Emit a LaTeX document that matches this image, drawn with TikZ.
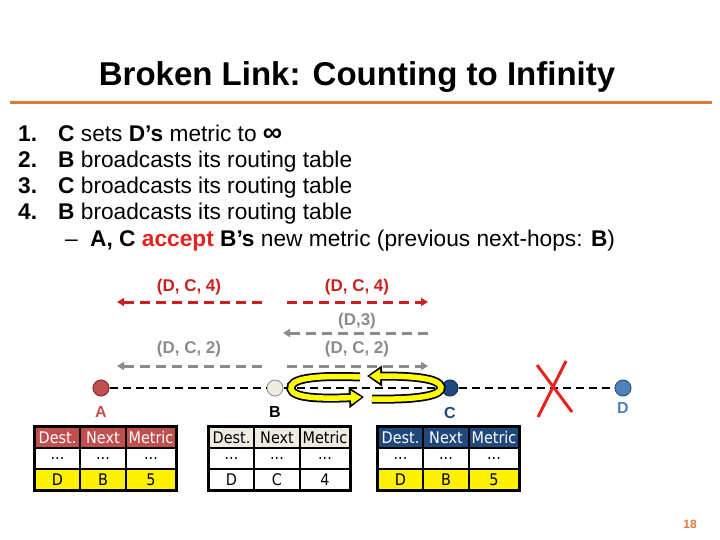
\documentclass[tikz,border=0pt]{standalone}
\usepackage{fontspec}
\setmainfont{Liberation Sans}
\newfontfamily\tabfont[FakeStretch=0.9]{DejaVu Sans}
\usepackage{xcolor}
\definecolor{ruleOrange}{HTML}{E07A3A}
\definecolor{nodeA}{HTML}{C0504D}
\definecolor{nodeB}{HTML}{EEECE1}
\definecolor{nodeC}{HTML}{1F497D}
\definecolor{nodeD}{HTML}{4F81BD}
\definecolor{msgRed}{HTML}{CC2020}
\definecolor{msgGray}{HTML}{8C8C8C}
\definecolor{acceptRed}{HTML}{E8231F}
\definecolor{loopYellow}{HTML}{FFFF00}
\usetikzlibrary{positioning,arrows.meta,calc}

\begin{document}
\begin{tikzpicture}[x=1pt, y=-1pt,
    every node/.style={font=\fontsize{22.7}{26}\selectfont, inner sep=0pt},
    router/.style={circle, draw=#1!65!black, line width=1pt, fill=#1, minimum size=16pt},
    rlabel/.style={font=\fontsize{16}{18}\selectfont\bfseries, text=#1},
    msglab/.style={font=\fontsize{17}{19}\selectfont\bfseries, text=#1},
    msg/.style={draw=#1, line width=3pt, dash pattern=on 10pt off 6pt,
      -{Triangle[length=7pt,width=8pt]}},
    link/.style={draw=black, line width=2.4pt, dash pattern=on 8pt off 5pt},
    cell/.style={draw=black, line width=1.5pt, minimum height=21pt,
      font=\fontsize{16}{17}\selectfont\tabfont},
    tabframe/.style={draw=black, line width=2.5pt},
    loopout/.style={draw=black, line width=9pt, -{Triangle[length=15pt,width=20pt]}},
    loopin/.style={draw=loopYellow, line width=5.5pt, shorten >=2.5pt,
      -{Triangle[length=10.5pt,width=13pt]}}]
  \useasboundingbox (0,0) rectangle (720,540);
  % Title
  \node[font=\fontsize{33}{36}\selectfont\bfseries, anchor=base] (title) at (357,86)
    {Broken Link: Counting to Infinity};
  \coordinate (ruleL) at (10,103);
  \coordinate (ruleR) at (712,103);
  \draw[ruleOrange, line width=3pt] (ruleL) -- (ruleR);
  % Steps
  \foreach \i/\y in {1/142, 2/168, 3/194, 4/220}
    \node[anchor=base west] (num\i) at (18,\y) {\textbf{\i.}};
  \node[anchor=base west] (step1) at (58,142)
    {\textbf{C} sets \textbf{D’s} metric to {\fontsize{27}{26}\selectfont\textbf{∞}}};
  \node[anchor=base west] (step2) at (58,168) {\textbf{B} broadcasts its routing table};
  \node[anchor=base west] (step3) at (58,194) {\textbf{C} broadcasts its routing table};
  \node[anchor=base west] (step4) at (58,220) {\textbf{B} broadcasts its routing table};
  \node[anchor=base west] (dash5) at (65,246) {–};
  \node[anchor=base west] (step5) at (90,246)
    {\textbf{A, C} \textcolor{acceptRed}{\textbf{accept}} \textbf{B’s} new metric (previous next-hops: \textbf{B})};
  % Messages
  \node[msglab=msgRed] (lab1) at (189,287) {(D, C, 4)};
  \node[msglab=msgRed] (lab2) at (357,287) {(D, C, 4)};
  \node[msglab=msgGray] (lab3) at (357,321) {(D,3)};
  \node[msglab=msgGray] (lab4) at (189,349) {(D, C, 2)};
  \node[msglab=msgGray] (lab5) at (357,349) {(D, C, 2)};
  \coordinate (m1a) at (262,302); \coordinate (m1b) at (117,302);
  \coordinate (m2a) at (287,302); \coordinate (m2b) at (428,302);
  \coordinate (m3a) at (428,333); \coordinate (m3b) at (283,333);
  \coordinate (m4a) at (262,366); \coordinate (m4b) at (117,366);
  \coordinate (m5a) at (287,366); \coordinate (m5b) at (428,366);
  \draw[msg=msgRed] (m1a) -- (m1b);
  \draw[msg=msgRed] (m2a) -- (m2b);
  \foreach \m in {3,4,5}
    \draw[msg=msgGray] (m\m a) -- (m\m b);
  % Routers
  \node[router=nodeA] (A) at (101,388) {};
  \node[router=nodeB] (B) at (275,388) {};
  \node[router=nodeC] (C) at (450,388) {};
  \node[router=nodeD] (D) at (623,388) {};
  \draw[link] (A) -- (B);
  \draw[link] (B) -- (C);
  \draw[link] (C) -- (D);
  \node[rlabel=nodeA] (labA) at (101,412) {A};
  \node[rlabel=black] (labB) at (275,412) {B};
  \node[rlabel=nodeC] (labC) at (450,413) {C};
  \node[rlabel=nodeD] (labD) at (623,408) {D};
  % Broken link
  \coordinate (x1a) at (537,365); \coordinate (x1b) at (572,412);
  \coordinate (x2a) at (566,361); \coordinate (x2b) at (538,417);
  \draw[acceptRed, line width=3pt] (x1a) -- (x1b);
  \draw[acceptRed, line width=3pt] (x2a) -- (x2b);
  % Loop between B and C
  \foreach \st in {loopout, loopin} {
    \draw[\st] (360,377) .. controls (312,375) and (289,379) .. (291,389)
      .. controls (293,398) and (320,399) .. (364,397);
    \draw[\st] (372,399) .. controls (420,400) and (443,395) .. (441,387)
      .. controls (439,378) and (412,376) .. (367,376);
  }
  % Tables
  \foreach \t/\x/\hd/\hf/\lf/\nx/\mt in {A/35/nodeA/white/yellow/B/5,
      B/209/nodeB/black/white/C/4, C/378/nodeC/white/yellow/B/5} {
    \foreach \c/\dx/\w/\hx/\dv in {1/0/45/Dest./D, 2/45/46/Next/\nx, 3/91/50/Metric/\mt} {
      \node[cell, fill=\hd, text=\hf, minimum width=\w pt] (t\t h\c) at (\x+\dx+\w/2,437.5) {\hx};
      \node[cell, fill=white, minimum width=\w pt] (t\t m\c) at (\x+\dx+\w/2,458.5) {...};
      \node[cell, fill=\lf, minimum width=\w pt] (t\t d\c) at (\x+\dx+\w/2,479.5) {\dv};
    }
    \draw[tabframe] (t\t h1.north west) rectangle (t\t d3.south east);
  }
  % Slide number
  \node[font=\fontsize{12}{14}\selectfont\bfseries, text=ruleOrange] (page) at (690,524) {18};
\end{tikzpicture}
\end{document}
